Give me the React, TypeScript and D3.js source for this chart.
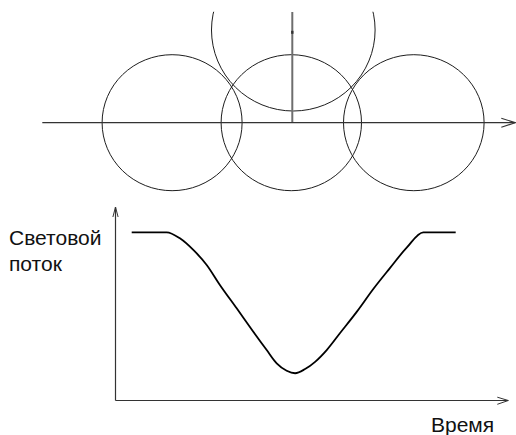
import React from "react";
import * as d3 from "d3";

// ---- Data ----
// Top panel: circles (centre offset from the vertical axis, offset above the horizontal axis, radii)
const circleCx: number[] = [-120.2, -1, 121.5];
const circleCy: number[] = [0, 0, 0];
const circleRx: number[] = [70, 70.2, 70.3];
const circleRy: number[] = [68, 68, 68];
const topCircle = { cx: 1, cy: 92.7, r: 81.5 };
const markerPoint = { x: 0, y: 90.4 };

// Bottom panel: light flux vs time
const timeValues: number[] = [4.05, 12.8, 16.1, 19.45, 22.8, 26.1, 30.3, 34.45, 37.8, 40.3, 42.8, 44.9, 47.4, 49.9, 52.8, 56.1, 60.3, 64.45, 68.6, 72.8, 76.95, 85.05];
const fluxValues: number[] = [1.0, 1.0, 0.964, 0.895, 0.806, 0.687, 0.548, 0.409, 0.3, 0.221, 0.177, 0.162, 0.187, 0.23, 0.3, 0.4, 0.527, 0.663, 0.787, 0.909, 1.0, 1.0];

const yLabelLines: string[] = ["Световой", "поток"];
const xLabel = "Время";

const W = 516;
const H = 435;

export default function App() {
  // top panel scales (1 unit = 1 px), origin at axes crossing
  const tx = d3.scaleLinear().domain([-250, 223]).range([42.3, 515.3]);
  const ty = d3.scaleLinear().domain([0, 110.7]).range([122.7, 12]);

  // bottom panel scales
  const bx = d3.scaleLinear().domain([0, 100]).range([115.5, 515.5]);
  const by = d3.scaleLinear().domain([0, 1]).range([400.5, 232.3]);

  const pts: [number, number][] = timeValues.map((t, i) => [t, fluxValues[i]]);
  const line = d3
    .line<[number, number]>()
    .x((d) => bx(d[0]))
    .y((d) => by(d[1]))
    .curve(d3.curveMonotoneX);

  const axisColor = "#333";
  const circleColor = "#1e1e1e";
  const font = "'Liberation Sans', Arial, sans-serif";

  const topAxisEnd = tx(223);
  const topAxisY = ty(0);
  const bAxisX = bx(0);
  const bAxisY = by(0);
  const bAxisEndX = bx(98.2);
  const bAxisTopY = 207;

  return (
    <svg
      width={W}
      height={H}
      viewBox={`0 0 ${W} ${H}`}
      style={{ position: "absolute", left: 0, top: 0, background: "#fff" }}
    >
      <rect x={0} y={0} width={W} height={H} fill="#fff" />
      <defs>
        <clipPath id="topClip">
          <rect x={0} y={11.7} width={W} height={H} />
        </clipPath>
      </defs>

      {/* Top panel */}
      <g clipPath="url(#topClip)">
        <ellipse
          cx={tx(topCircle.cx)}
          cy={ty(topCircle.cy)}
          rx={topCircle.r + 0.3}
          ry={topCircle.r - 0.5}
          fill="none"
          stroke={circleColor}
          strokeWidth={1}
        />
      </g>
      {circleCx.map((cx, i) => (
        <ellipse
          key={i}
          cx={tx(cx)}
          cy={ty(circleCy[i])}
          rx={circleRx[i]}
          ry={circleRy[i]}
          fill="none"
          stroke={circleColor}
          strokeWidth={1}
        />
      ))}
      <line
        x1={tx(0)}
        x2={tx(0)}
        y1={ty(110.7)}
        y2={ty(0)}
        stroke="#6e6e6e"
        strokeWidth={2}
      />
      <rect
        x={tx(markerPoint.x) - 1.2}
        y={ty(markerPoint.y) - 1.5}
        width={2.4}
        height={3}
        fill="#333"
      />
      <line x1={tx(-250)} x2={topAxisEnd} y1={topAxisY} y2={topAxisY} stroke={axisColor} strokeWidth={1.2} />
      <polyline
        points={`${topAxisEnd - 14},${topAxisY - 4.4} ${topAxisEnd},${topAxisY} ${topAxisEnd - 14},${topAxisY + 4.6}`}
        fill="none"
        stroke={axisColor}
        strokeWidth={1.1}
      />

      {/* Bottom panel */}
      <line x1={bAxisX} x2={bAxisX} y1={bAxisY} y2={bAxisTopY} stroke={axisColor} strokeWidth={1.2} />
      <polyline
        points={`${bAxisX - 2.6},${bAxisTopY + 10} ${bAxisX},${bAxisTopY} ${bAxisX + 2.6},${bAxisTopY + 10}`}
        fill="none"
        stroke={axisColor}
        strokeWidth={1}
      />
      <line x1={bAxisX} x2={bAxisEndX} y1={bAxisY} y2={bAxisY} stroke={axisColor} strokeWidth={1.2} />
      <polyline
        points={`${bAxisEndX - 11},${bAxisY - 3.3} ${bAxisEndX},${bAxisY} ${bAxisEndX - 11},${bAxisY + 3.8}`}
        fill="none"
        stroke={axisColor}
        strokeWidth={1}
      />
      <path d={line(pts) || ""} fill="none" stroke="#000" strokeWidth={1.8} strokeLinejoin="round" />

      <text x={9} y={245} fontFamily={font} fontSize={21} fill="#111">
        {yLabelLines[0]}
      </text>
      <text x={9} y={270.7} fontFamily={font} fontSize={21} fill="#111">
        {yLabelLines[1]}
      </text>
      <text x={431} y={431.7} fontFamily={font} fontSize={21} fill="#111">
        {xLabel}
      </text>
    </svg>
  );
}
